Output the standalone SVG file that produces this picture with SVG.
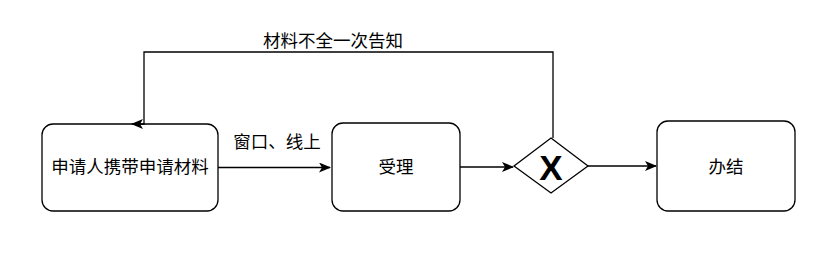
<svg xmlns="http://www.w3.org/2000/svg" width="840" height="262" viewBox="0 0 840 262">
<style>
.n{fill:#fff;stroke:#000;stroke-width:1.3}
.t{font-family:"Noto Sans CJK SC","Noto Sans",sans-serif;font-size:17.5px;fill:#000;text-anchor:middle}
.c{fill:none;stroke:#000;stroke-width:1.3}
</style>
<defs>
<marker id="a" viewBox="0 0 12 10" refX="11" refY="5" markerWidth="12" markerHeight="10" markerUnits="userSpaceOnUse" orient="auto">
<path d="M0,0 L12,5 L0,10 L3,5 Z" fill="#000"/>
</marker>
</defs>
<rect width="840" height="262" fill="#fff"/>
<g id="n1">
<rect class="n" x="42" y="124" width="176" height="87" rx="11"/>
<text class="t" x="130" y="173">申请人携带申请材料</text>
</g>
<g id="n2">
<rect class="n" x="332" y="123" width="128" height="88" rx="11"/>
<text class="t" x="396" y="173">受理</text>
</g>
<g id="gw">
<path class="n" d="M551,138 L588,166 L551,193 L514,166 Z"/>
<text x="551" y="180" font-family="Liberation Sans,Arial,sans-serif" font-weight="bold" font-size="35" text-anchor="middle" fill="#000">X</text>
</g>
<g id="n4">
<rect class="n" x="657" y="121" width="138" height="90" rx="11"/>
<text class="t" x="726" y="173">办结</text>
</g>
<g id="connectors">
<path class="c" d="M218,167.5 H330" marker-end="url(#a)"/>
<path class="c" d="M460,167 H513" marker-end="url(#a)"/>
<path class="c" d="M588,166 H656" marker-end="url(#a)"/>
<path class="c" d="M553,138 V52 H144 V124 H132" marker-end="url(#a)"/>
<text class="t" x="277" y="148">窗口、线上</text>
<text class="t" x="333" y="47">材料不全一次告知</text>
</g>
</svg>
